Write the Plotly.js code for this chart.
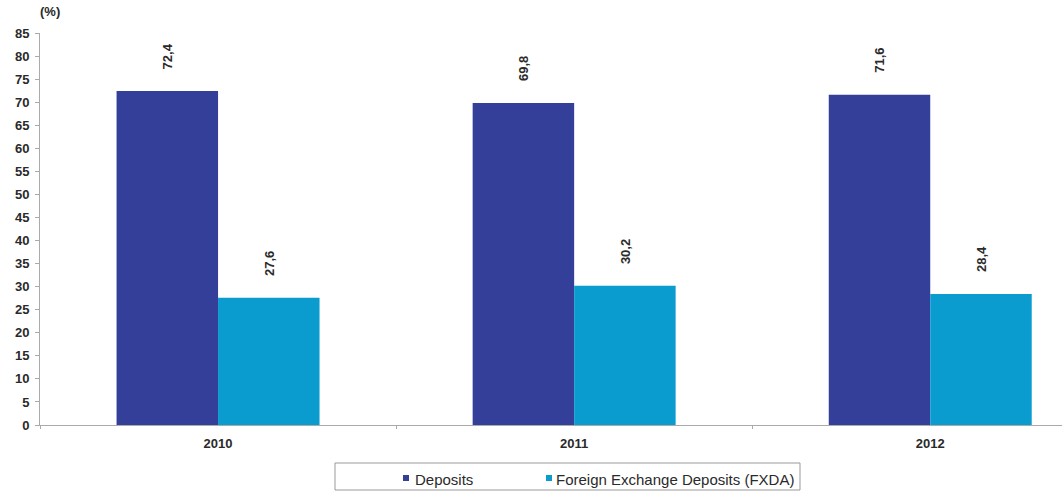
<!DOCTYPE html>
<html>
<head>
<meta charset="utf-8">
<script src="https://cdn.plot.ly/plotly-3.0.1.min.js"></script>
<style>
html,body{margin:0;padding:0;background:#fff;}
#chart{width:1064px;height:494px;}
</style>
</head>
<body>
<div id="chart"></div>
<script>
var years = ["2010", "2011", "2012"];
var deposits = [72.4, 69.8, 71.6];
var fxda = [27.6, 30.2, 28.4];
var seriesNames = ["Deposits", "Foreign Exchange Deposits (FXDA)"];
var colors = ["#343f9a", "#0a9bcf"];

function fmt(v){ return v.toFixed(1).replace('.', ','); }

var font = {family: "Liberation Sans, Arial, sans-serif", size: 13, color: "#2a2a2a", weight: "bold"};
var legendFont = {family: "Liberation Sans, Arial, sans-serif", size: 15, color: "#2a2a2a", weight: "normal"};

var traces = [
  {type: "bar", x: years, y: deposits, name: seriesNames[0], marker: {color: colors[0]}, hoverinfo: "none"},
  {type: "bar", x: years, y: fxda, name: seriesNames[1], marker: {color: colors[1]}, hoverinfo: "none"}
];

var bargap = 0.43;
var half = (1 - bargap) / 4;
var annotations = [];
[deposits, fxda].forEach(function(arr, s){
  arr.forEach(function(v, i){
    annotations.push({
      xref: "x", yref: "y", x: i + (s === 0 ? -half : half), y: v,
      text: fmt(v), showarrow: false, textangle: -90,
      yanchor: "bottom", xanchor: "center", yshift: 20,
      font: font
    });
  });
});
annotations.push({xref: "paper", yref: "paper", x: -0.002, y: 1.054, xanchor: "left", yanchor: "middle",
  text: "(%)", showarrow: false, font: font});

// custom legend (box + swatches + labels)
var W = 1022, H = 392, L = 40, B = 425;
function px(x){ return (x - L) / W; }
function py(y){ return (B - y) / H; }
var shapes = [
  {type: "rect", xref: "paper", yref: "paper", x0: px(335), x1: px(800), y0: py(490), y1: py(463),
   line: {color: "#999", width: 1}, fillcolor: "rgba(0,0,0,0)"}
];
var legendX = [403, 546];
var legendTextX = [413, 554];
seriesNames.forEach(function(n, s){
  shapes.push({type: "rect", xref: "paper", yref: "paper",
    x0: px(legendX[s]), x1: px(legendX[s] + 6), y0: py(481), y1: py(475),
    line: {width: 0}, fillcolor: colors[s]});
  annotations.push({xref: "paper", yref: "paper", x: px(legendTextX[s]), y: py(479),
    xanchor: "left", yanchor: "middle", text: n, showarrow: false, font: legendFont});
});

var layout = {
  width: 1064, height: 494,
  margin: {l: 40, r: 2, t: 33, b: 69},
  paper_bgcolor: "#fff", plot_bgcolor: "#fff",
  barmode: "group", bargap: bargap, bargroupgap: 0,
  font: font,
  showlegend: false,
  xaxis: {type: "category", range: [-0.5, 2.37], showline: true, linecolor: "#aaa", linewidth: 1,
    ticks: "outside", ticklen: 3, tickcolor: "#aaa", tickson: "boundaries",
    showgrid: false, zeroline: false, tickfont: font, ticklabelstandoff: 6, fixedrange: true},
  yaxis: {range: [0, 85], dtick: 5, showline: true, linecolor: "#aaa", linewidth: 1,
    ticks: "outside", ticklen: 4, tickcolor: "#aaa", showgrid: false, zeroline: false,
    tickfont: font, ticklabelstandoff: 3, fixedrange: true},
  shapes: shapes,
  annotations: annotations
};

Plotly.newPlot("chart", traces, layout, {displayModeBar: false, staticPlot: true});
</script>
</body>
</html>
